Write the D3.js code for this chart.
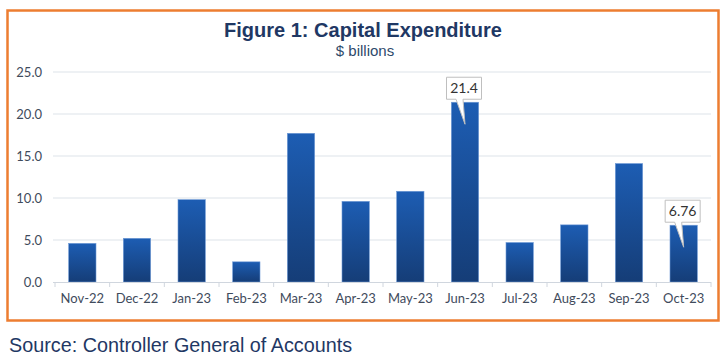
<!DOCTYPE html>
<html lang="en">
<head>
  <meta charset="UTF-8">
  <title>Capital Expenditure</title>
  <script src="https://d3js.org/d3.v7.min.js"></script>
  <style>
    body { margin: 0; background: #fff; }
    svg { display: block; }
  </style>
</head>
<body>
  <svg></svg>
  <script>
    const months = ["Nov-22", "Dec-22", "Jan-23", "Feb-23", "Mar-23", "Apr-23",
                    "May-23", "Jun-23", "Jul-23", "Aug-23", "Sep-23", "Oct-23"];
    const capex = [4.6, 5.2, 9.8, 2.4, 17.7, 9.6, 10.8, 21.4, 4.7, 6.8, 14.1, 6.76];
    const yTicks = [0, 5, 10, 15, 20, 25];
    // bars that get a callout label
    const callouts = ["Jun-23", "Oct-23"];

    const width = 727, height = 363;
    const margin = { top: 72, right: 16, bottom: 81, left: 55 };

    const svg = d3.select("svg")
      .attr("width", width)
      .attr("height", height);

    // gradient for the bars
    const grad = svg.append("defs").append("linearGradient")
      .attr("id", "barGrad")
      .attr("x1", 0).attr("y1", 0).attr("x2", 0).attr("y2", 1);
    grad.append("stop").attr("offset", "0%").attr("stop-color", "#1d5db3");
    grad.append("stop").attr("offset", "100%").attr("stop-color", "#153d77");

    // orange frame
    svg.append("rect")
      .attr("x", 7.5).attr("y", 10.5)
      .attr("width", 711).attr("height", 310)
      .attr("fill", "none")
      .attr("stroke", "#ed7d31")
      .attr("stroke-width", 2.5);

    svg.append("text")
      .attr("x", 363).attr("y", 37)
      .attr("text-anchor", "middle")
      .style("font-family", "'Liberation Sans', Arial, sans-serif")
      .style("font-weight", "bold")
      .style("font-size", "20px")
      .attr("fill", "#1f3864")
      .text("Figure 1: Capital Expenditure");

    svg.append("text")
      .attr("x", 365).attr("y", 56)
      .attr("text-anchor", "middle")
      .style("font-family", "'Liberation Sans', Arial, sans-serif")
      .style("font-size", "15px")
      .attr("fill", "#2e4a6b")
      .text("$ billions");

    const x = d3.scaleBand()
      .domain(months)
      .range([margin.left, width - margin.right])
      .paddingInner(0.5)
      .paddingOuter(0.25);

    const y = d3.scaleLinear()
      .domain([0, 25])
      .range([height - margin.bottom, margin.top]);

    // gridlines
    svg.append("g")
      .selectAll("line")
      .data(yTicks.slice(1))
      .join("line")
      .attr("x1", margin.left - 2)
      .attr("x2", width - margin.right)
      .attr("y1", d => y(d))
      .attr("y2", d => y(d))
      .attr("stroke", "#dde3ea")
      .attr("stroke-width", 1.2);

    // y labels
    svg.append("g")
      .selectAll("text")
      .data(yTicks)
      .join("text")
      .attr("x", 42)
      .attr("y", d => y(d))
      .attr("dy", "0.35em")
      .attr("text-anchor", "end")
      .style("font-family", "Lato, sans-serif")
      .style("font-size", "13px")
      .attr("fill", "#3f4b5c")
      .text(d => d.toFixed(1));

    // bars
    svg.append("g")
      .selectAll("rect")
      .data(months)
      .join("rect")
      .attr("x", d => x(d))
      .attr("width", x.bandwidth())
      .attr("y", (d, i) => y(capex[i]))
      .attr("height", (d, i) => y(0) - y(capex[i]))
      .attr("fill", "url(#barGrad)")
      .attr("stroke", "#6f9ad6")
      .attr("stroke-width", 0.6);

    // x axis
    const xAxis = d3.axisBottom(x).tickSize(0).tickPadding(12);
    const gx = svg.append("g")
      .attr("transform", `translate(0,${y(0)})`)
      .call(xAxis);
    gx.select(".domain").attr("stroke", "#d0d6de").attr("stroke-width", 1.2)
      .attr("d", `M${margin.left - 2},0.5H${width - margin.right}`);
    gx.selectAll("text")
      .style("font-family", "Lato, sans-serif")
      .style("font-size", "13px")
      .attr("fill", "#3f4b5c");

    // small separators between categories
    const step = x.step();
    gx.append("g")
      .selectAll("line")
      .data(d3.range(months.length + 1))
      .join("line")
      .attr("x1", i => x(months[0]) - step * 0.25 + i * step)
      .attr("x2", i => x(months[0]) - step * 0.25 + i * step)
      .attr("y1", 0).attr("y2", 5)
      .attr("stroke", "#d0d6de");

    // callouts
    callouts.forEach(m => {
      const i = months.indexOf(m);
      const cx = x(m) + x.bandwidth() / 2;
      const top = y(capex[i]);
      const bw = 35, bh = 22;
      const bx = cx - bw / 2 - 1, by = top - 3 - bh;
      const g = svg.append("g");
      g.append("path")
        .attr("d", `M${bx},${by}H${bx + bw}V${by + bh}H${cx - 2}L${cx},${top + 22}L${cx - 9},${by + bh}H${bx}Z`)
        .attr("fill", "#fff")
        .attr("stroke", "#bfbfbf")
        .attr("stroke-width", 1);
      g.append("text")
        .attr("x", bx + bw / 2)
        .attr("y", by + bh / 2)
        .attr("dy", "0.36em")
        .attr("text-anchor", "middle")
        .style("font-family", "Lato, sans-serif")
        .style("font-size", "14px")
        .attr("fill", "#333")
        .text(capex[i]);
    });

    svg.append("text")
      .attr("x", 9).attr("y", 352)
      .style("font-family", "'Liberation Sans', Arial, sans-serif")
      .style("font-size", "19.8px")
      .attr("fill", "#1f3864")
      .text("Source: Controller General of Accounts");
  </script>
</body>
</html>
